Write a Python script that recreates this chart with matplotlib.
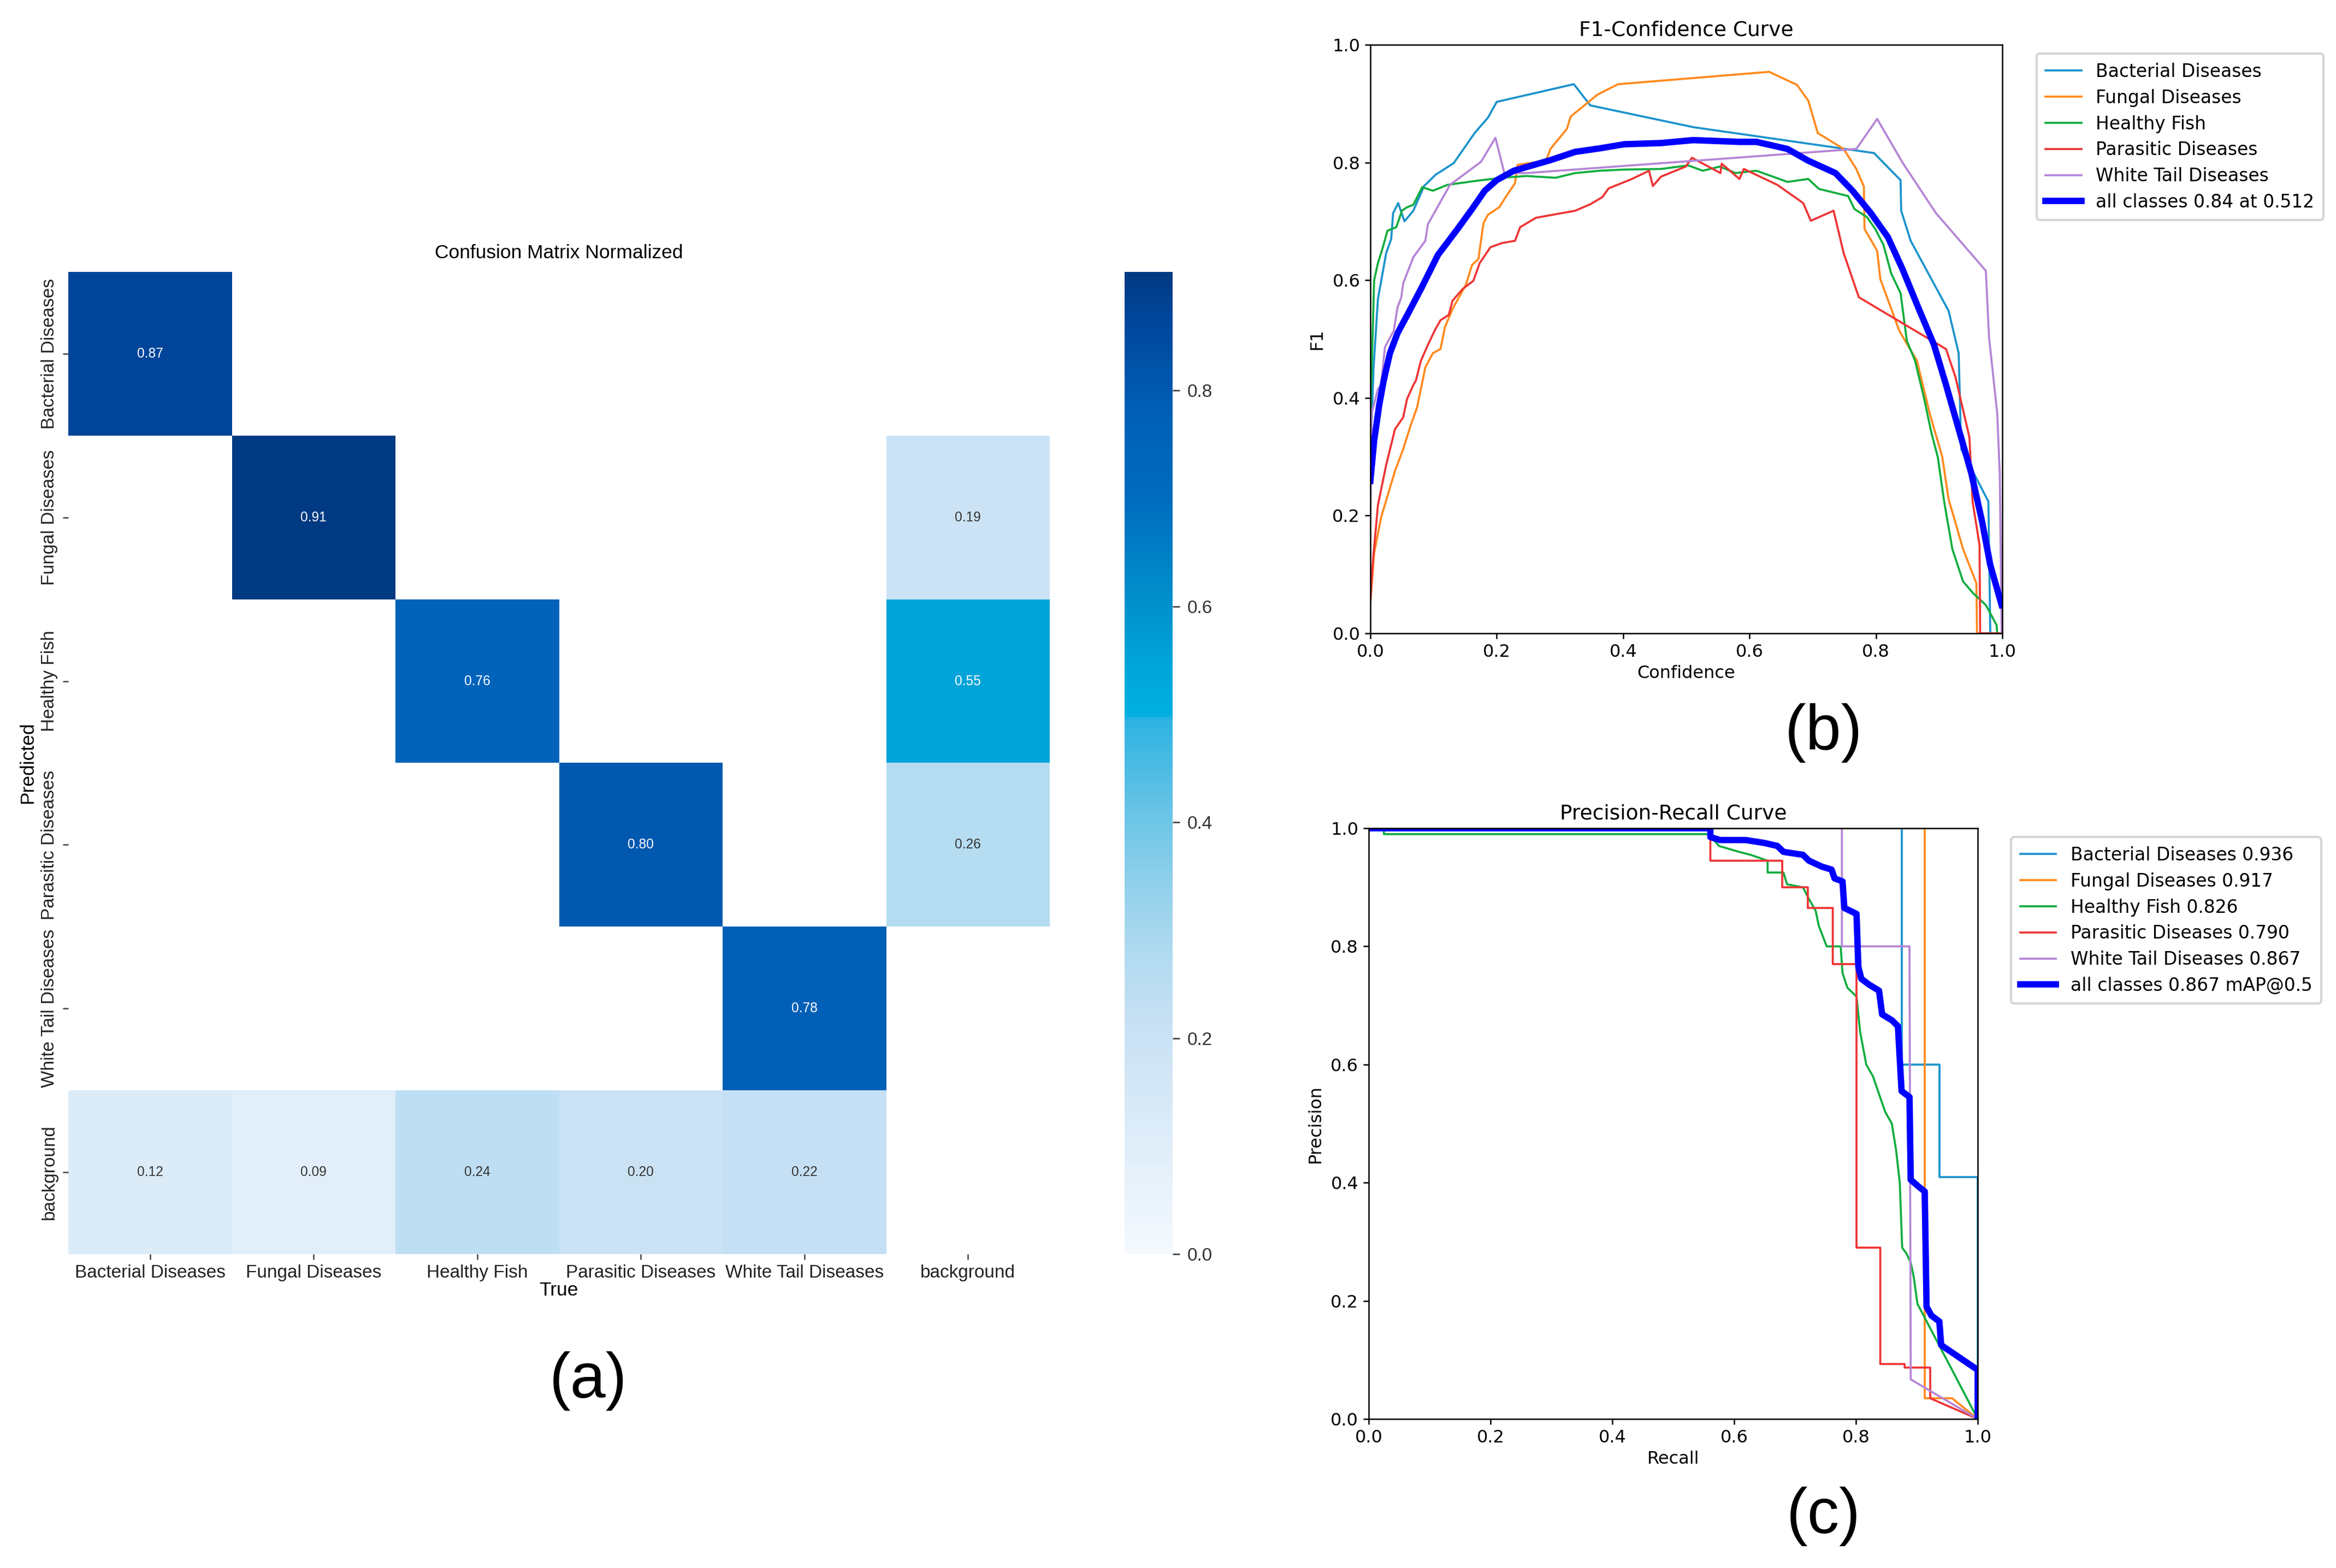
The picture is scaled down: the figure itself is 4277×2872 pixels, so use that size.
import numpy as np
import matplotlib
matplotlib.use('Agg')
import matplotlib.pyplot as plt
from matplotlib.colors import LinearSegmentedColormap

# ---- data ----
classes = ['Bacterial Diseases', 'Fungal Diseases', 'Healthy Fish',
           'Parasitic Diseases', 'White Tail Diseases']
cm_labels = classes + ['background']
nan = np.nan
cm_values = [
    [0.87, nan, nan, nan, nan, nan],
    [nan, 0.91, nan, nan, nan, 0.19],
    [nan, nan, 0.76, nan, nan, 0.55],
    [nan, nan, nan, 0.80, nan, 0.26],
    [nan, nan, nan, nan, 0.78, nan],
    [0.12, 0.09, 0.24, 0.20, 0.22, nan],
]
cbar_ticks = [0.0, 0.2, 0.4, 0.6, 0.8]

# F1-confidence curves
f1_bact_x = [0.0, 0.005, 0.012, 0.016, 0.025, 0.033, 0.036, 0.044, 0.054, 0.068, 0.085, 0.103, 0.132,
             0.165, 0.186, 0.2, 0.322, 0.348, 0.511, 0.797, 0.839, 0.840, 0.855, 0.915, 0.931, 0.935,
             0.978, 0.981, 1.0]
f1_bact_y = [0.30, 0.45, 0.568, 0.592, 0.646, 0.67, 0.714, 0.731, 0.70, 0.718, 0.76, 0.779, 0.799,
             0.85, 0.876, 0.903, 0.933, 0.897, 0.86, 0.816, 0.77, 0.718, 0.667, 0.548, 0.476, 0.313,
             0.224, 0.0, 0.0]
f1_fung_x = [0.0, 0.006, 0.017, 0.039, 0.052, 0.064, 0.074, 0.087, 0.099, 0.111, 0.118, 0.13, 0.151,
             0.161, 0.171, 0.179, 0.186, 0.204, 0.214, 0.229, 0.233, 0.278, 0.285, 0.311, 0.317, 0.359,
             0.392, 0.631, 0.675, 0.693, 0.708, 0.749, 0.769, 0.781, 0.782, 0.802, 0.807, 0.822, 0.837,
             0.854, 0.865, 0.885, 0.905, 0.915, 0.938, 0.959, 0.96, 1.0]
f1_fung_y = [0.054, 0.136, 0.197, 0.276, 0.313, 0.354, 0.384, 0.452, 0.476, 0.483, 0.52, 0.551, 0.592,
             0.626, 0.636, 0.697, 0.711, 0.724, 0.741, 0.765, 0.796, 0.803, 0.823, 0.857, 0.878, 0.915,
             0.933, 0.954, 0.932, 0.905, 0.85, 0.823, 0.789, 0.759, 0.687, 0.65, 0.602, 0.558, 0.514,
             0.483, 0.463, 0.374, 0.3, 0.228, 0.143, 0.085, 0.0, 0.0]
f1_heal_x = [0.0, 0.001, 0.006, 0.012, 0.019, 0.027, 0.041, 0.05, 0.058, 0.068, 0.082, 0.099, 0.122,
             0.142, 0.169, 0.208, 0.247, 0.293, 0.324, 0.363, 0.402, 0.46, 0.503, 0.526, 0.553, 0.578,
             0.611, 0.66, 0.693, 0.71, 0.756, 0.766, 0.786, 0.799, 0.812, 0.824, 0.839, 0.849, 0.862,
             0.875, 0.888, 0.898, 0.908, 0.921, 0.938, 0.954, 0.974, 0.991, 0.992, 1.0]
f1_heal_y = [0.33, 0.408, 0.6, 0.629, 0.653, 0.684, 0.69, 0.718, 0.724, 0.728, 0.758, 0.752, 0.762,
             0.765, 0.769, 0.774, 0.777, 0.774, 0.782, 0.786, 0.788, 0.789, 0.795, 0.786, 0.793, 0.782,
             0.786, 0.767, 0.772, 0.755, 0.743, 0.721, 0.707, 0.687, 0.66, 0.612, 0.578, 0.497, 0.463,
             0.405, 0.34, 0.299, 0.224, 0.143, 0.088, 0.068, 0.048, 0.014, 0.0, 0.0]
f1_para_x = [0.0, 0.004, 0.012, 0.025, 0.039, 0.052, 0.058, 0.068, 0.072, 0.08, 0.091, 0.103, 0.111,
             0.124, 0.13, 0.146, 0.163, 0.173, 0.19, 0.208, 0.229, 0.237, 0.262, 0.324, 0.348, 0.367,
             0.377, 0.414, 0.441, 0.447, 0.46, 0.499, 0.509, 0.554, 0.556, 0.584, 0.591, 0.644, 0.685,
             0.697, 0.733, 0.749, 0.773, 0.911, 0.926, 0.948, 0.953, 0.964, 0.965, 1.0]
f1_para_y = [0.054, 0.122, 0.218, 0.286, 0.347, 0.367, 0.398, 0.422, 0.429, 0.463, 0.49, 0.517, 0.532,
             0.541, 0.565, 0.585, 0.599, 0.629, 0.656, 0.663, 0.667, 0.69, 0.706, 0.718, 0.729, 0.741,
             0.756, 0.772, 0.786, 0.76, 0.776, 0.793, 0.808, 0.782, 0.798, 0.772, 0.789, 0.762, 0.731,
             0.701, 0.718, 0.646, 0.571, 0.483, 0.435, 0.333, 0.224, 0.15, 0.0, 0.0]
f1_whit_x = [0.0, 0.002, 0.012, 0.017, 0.023, 0.037, 0.043, 0.049, 0.052, 0.068, 0.087, 0.091, 0.126,
             0.175, 0.198, 0.212, 0.247, 0.769, 0.802, 0.842, 0.895, 0.974, 0.979, 0.992, 0.996, 0.999]
f1_whit_y = [0.20, 0.374, 0.415, 0.422, 0.486, 0.514, 0.554, 0.571, 0.595, 0.639, 0.667, 0.695, 0.762,
             0.801, 0.842, 0.782, 0.782, 0.823, 0.874, 0.8, 0.714, 0.616, 0.503, 0.374, 0.272, 0.0]
f1_all_x = [0.0, 0.006, 0.014, 0.021, 0.031, 0.043, 0.06, 0.08, 0.107, 0.138, 0.161, 0.181, 0.2, 0.227,
            0.285, 0.324, 0.363, 0.402, 0.46, 0.511, 0.584, 0.611, 0.66, 0.693, 0.736, 0.763, 0.792,
            0.819, 0.842, 0.868, 0.892, 0.911, 0.931, 0.951, 0.968, 0.981, 0.999]
f1_all_y = [0.259, 0.327, 0.388, 0.429, 0.476, 0.51, 0.544, 0.585, 0.643, 0.687, 0.721, 0.752, 0.77,
            0.786, 0.804, 0.818, 0.824, 0.831, 0.833, 0.838, 0.835, 0.835, 0.823, 0.803, 0.782, 0.752,
            0.714, 0.673, 0.619, 0.551, 0.49, 0.422, 0.347, 0.272, 0.19, 0.116, 0.048]
f1_best = (0.84, 0.512)

# Precision-recall curves
pr_bact_x = [0.0, 0.875, 0.875, 0.937, 0.937, 1.0, 1.0]
pr_bact_y = [1.0, 1.0, 0.6, 0.6, 0.409, 0.409, 0.0]
pr_fung_x = [0.0, 0.913, 0.913, 0.958, 1.0]
pr_fung_y = [1.0, 1.0, 0.035, 0.035, 0.0]
pr_heal_x = [0.0, 0.025, 0.025, 0.559, 0.575, 0.608, 0.627, 0.655, 0.655, 0.681, 0.687, 0.713, 0.723,
             0.734, 0.739, 0.752, 0.775, 0.778, 0.786, 0.801, 0.807, 0.817, 0.828, 0.838, 0.848, 0.859,
             0.866, 0.872, 0.876, 0.883, 0.89, 0.895, 0.901, 1.0]
pr_heal_y = [1.0, 1.0, 0.99, 0.99, 0.97, 0.96, 0.955, 0.945, 0.925, 0.925, 0.905, 0.9, 0.88, 0.86,
             0.835, 0.8, 0.8, 0.755, 0.73, 0.715, 0.655, 0.6, 0.58, 0.55, 0.52, 0.5, 0.455, 0.4, 0.29,
             0.28, 0.265, 0.24, 0.195, 0.0]
pr_para_x = [0.0, 0.561, 0.561, 0.679, 0.679, 0.721, 0.721, 0.762, 0.762, 0.801, 0.801, 0.84, 0.84,
             0.88, 0.88, 0.922, 0.922, 1.0]
pr_para_y = [1.0, 1.0, 0.945, 0.945, 0.9, 0.9, 0.865, 0.865, 0.77, 0.77, 0.29, 0.29, 0.093, 0.093,
             0.087, 0.087, 0.035, 0.0]
pr_whit_x = [0.0, 0.777, 0.777, 0.888, 0.89, 1.0]
pr_whit_y = [1.0, 1.0, 0.8, 0.8, 0.067, 0.0]
pr_all_x = [0.0, 0.561, 0.561, 0.577, 0.619, 0.65, 0.671, 0.681, 0.713, 0.723, 0.744, 0.76, 0.765,
            0.778, 0.781, 0.801, 0.804, 0.809, 0.822, 0.838, 0.843, 0.859, 0.869, 0.875, 0.888, 0.89,
            0.901, 0.913, 0.916, 0.924, 0.937, 0.94, 1.0, 1.0]
pr_all_y = [1.0, 1.0, 0.985, 0.98, 0.98, 0.975, 0.97, 0.96, 0.955, 0.945, 0.935, 0.93, 0.915, 0.91,
            0.865, 0.855, 0.765, 0.745, 0.735, 0.725, 0.685, 0.675, 0.665, 0.555, 0.545, 0.405, 0.395,
            0.385, 0.19, 0.175, 0.165, 0.125, 0.083, 0.0]
ap_values = [0.936, 0.917, 0.826, 0.790, 0.867]
map50 = 0.867

class_colors = ['#1c93cc', '#ff8a1e', '#12ad3e', '#ee3535', '#b585d6']

# ---- figure ----
W, H = 4277, 2872
fig = plt.figure(figsize=(W / 300, H / 300), dpi=300)

# confusion matrix (a)
cm_font = ['Liberation Sans', 'DejaVu Sans']
cmap = LinearSegmentedColormap.from_list('cm_blues', [
    (0.0, '#f5f9fe'), (0.12 / 0.91, '#dbebf8'), (0.21 / 0.91, '#c8e1f4'),
    (0.27 / 0.91, '#b3dbf1'), (0.33 / 0.91, '#98d2ec'), (0.41 / 0.91, '#68c4e6'),
    (0.495 / 0.91, '#2eb3e2'), (0.50 / 0.91, '#00b0e0'), (0.55 / 0.91, '#00a4d8'),
    (0.6 / 0.91, '#0092cc'), (0.7 / 0.91, '#006cbe'), (0.78 / 0.91, '#0060b8'),
    (0.8 / 0.91, '#005ab0'), (0.87 / 0.91, '#00459a'), (1.0, '#003a82')])
vmax = 0.91

ax_cm = fig.add_axes([125 / W, 1 - 2297 / H, 1797 / W, 1799 / H])
data = np.ma.masked_invalid(np.array(cm_values))
mesh = ax_cm.pcolormesh(data, cmap=cmap, vmin=0.0, vmax=vmax)
ax_cm.set_xlim(0, 6)
ax_cm.set_ylim(6, 0)
for sp in ax_cm.spines.values():
    sp.set_visible(False)
for i in range(6):
    for j in range(6):
        v = cm_values[i][j]
        if np.isnan(v):
            continue
        col = 'white' if v > 0.45 else '#333333'
        ax_cm.text(j + 0.5, i + 0.5, f'{v:.2f}', ha='center', va='center',
                   fontsize=5.9, color=col, family=cm_font)
ax_cm.set_xticks(np.arange(6) + 0.5)
ax_cm.set_yticks(np.arange(6) + 0.5)
ax_cm.set_xticklabels(cm_labels, fontsize=8.0, family=cm_font, color='#222222')
ax_cm.set_yticklabels(cm_labels, fontsize=8.0, family=cm_font, color='#222222',
                      rotation=90, va='center')
ax_cm.tick_params(length=2.5, width=0.6, color='#444444', pad=2)
ax_cm.set_xlabel('True', fontsize=8.5, family=cm_font, labelpad=0)
ax_cm.set_ylabel('Predicted', fontsize=8.5, family=cm_font, labelpad=2)
ax_cm.set_title('Confusion Matrix Normalized', fontsize=8.5, family=cm_font, pad=6)

ax_cb = fig.add_axes([2059 / W, 1 - 2297 / H, 88 / W, 1799 / H])
cb = fig.colorbar(mesh, cax=ax_cb)
cb.outline.set_visible(False)
cb.set_ticks(cbar_ticks)
cb.ax.tick_params(labelsize=8, length=3, width=0.6, color='#333333', labelcolor='#333333')
for t in cb.ax.get_yticklabels():
    t.set_family(cm_font)

# F1-confidence (b)
curve_font = 7.7
legend_font = 7.9
ax_f1 = fig.add_axes([2509 / W, 1 - 1160 / H, 1157 / W, 1078 / H])
f1_x = [f1_bact_x, f1_fung_x, f1_heal_x, f1_para_x, f1_whit_x]
f1_y = [f1_bact_y, f1_fung_y, f1_heal_y, f1_para_y, f1_whit_y]
for name, xs, ys, c in zip(classes, f1_x, f1_y, class_colors):
    ax_f1.plot(xs, ys, lw=0.9, color=c, label=name)
ax_f1.plot(f1_all_x, f1_all_y, lw=2.8, color='blue',
           label=f'all classes {f1_best[0]:.2f} at {f1_best[1]:.3f}')
ax_f1.set_xlim(0, 1)
ax_f1.set_ylim(0, 1)
ax_f1.set_xlabel('Confidence', fontsize=curve_font, labelpad=2)
ax_f1.set_ylabel('F1', fontsize=curve_font, labelpad=3)
ax_f1.set_title('F1-Confidence Curve', fontsize=9, pad=4)
ax_f1.tick_params(labelsize=curve_font, length=2.5, width=0.6, pad=2)
for sp in ax_f1.spines.values():
    sp.set_linewidth(0.6)
ax_f1.legend(bbox_to_anchor=(1.04, 1), loc='upper left', fontsize=legend_font,
             handlelength=2.0, borderpad=0.5, labelspacing=0.45)

# Precision-recall (c)
ax_pr = fig.add_axes([2506 / W, 1 - 2599 / H, 1115 / W, 1082 / H])
pr_x = [pr_bact_x, pr_fung_x, pr_heal_x, pr_para_x, pr_whit_x]
pr_y = [pr_bact_y, pr_fung_y, pr_heal_y, pr_para_y, pr_whit_y]
for name, ap, xs, ys, c in zip(classes, ap_values, pr_x, pr_y, class_colors):
    ax_pr.plot(xs, ys, lw=0.9, color=c, label=f'{name} {ap:.3f}')
ax_pr.plot(pr_all_x, pr_all_y, lw=2.8, color='blue',
           label=f'all classes {map50:.3f} mAP@0.5')
ax_pr.set_xlim(0, 1)
ax_pr.set_ylim(0, 1)
ax_pr.set_xlabel('Recall', fontsize=curve_font, labelpad=2)
ax_pr.set_ylabel('Precision', fontsize=curve_font, labelpad=3)
ax_pr.set_title('Precision-Recall Curve', fontsize=9, pad=4)
ax_pr.tick_params(labelsize=curve_font, length=2.5, width=0.6, pad=2)
for sp in ax_pr.spines.values():
    sp.set_linewidth(0.6)
ax_pr.legend(bbox_to_anchor=(1.04, 1), loc='upper left', fontsize=legend_font,
             handlelength=2.0, borderpad=0.5, labelspacing=0.45)

# panel letters
for lab, px, py in [('(a)', 1077, 2529), ('(b)', 3339, 1342), ('(c)', 3339, 2777)]:
    fig.text(px / W, 1 - py / H, lab, ha='center', va='center', fontsize=28,
             family=cm_font)

fig.savefig('out.png', dpi=300, facecolor='white')
